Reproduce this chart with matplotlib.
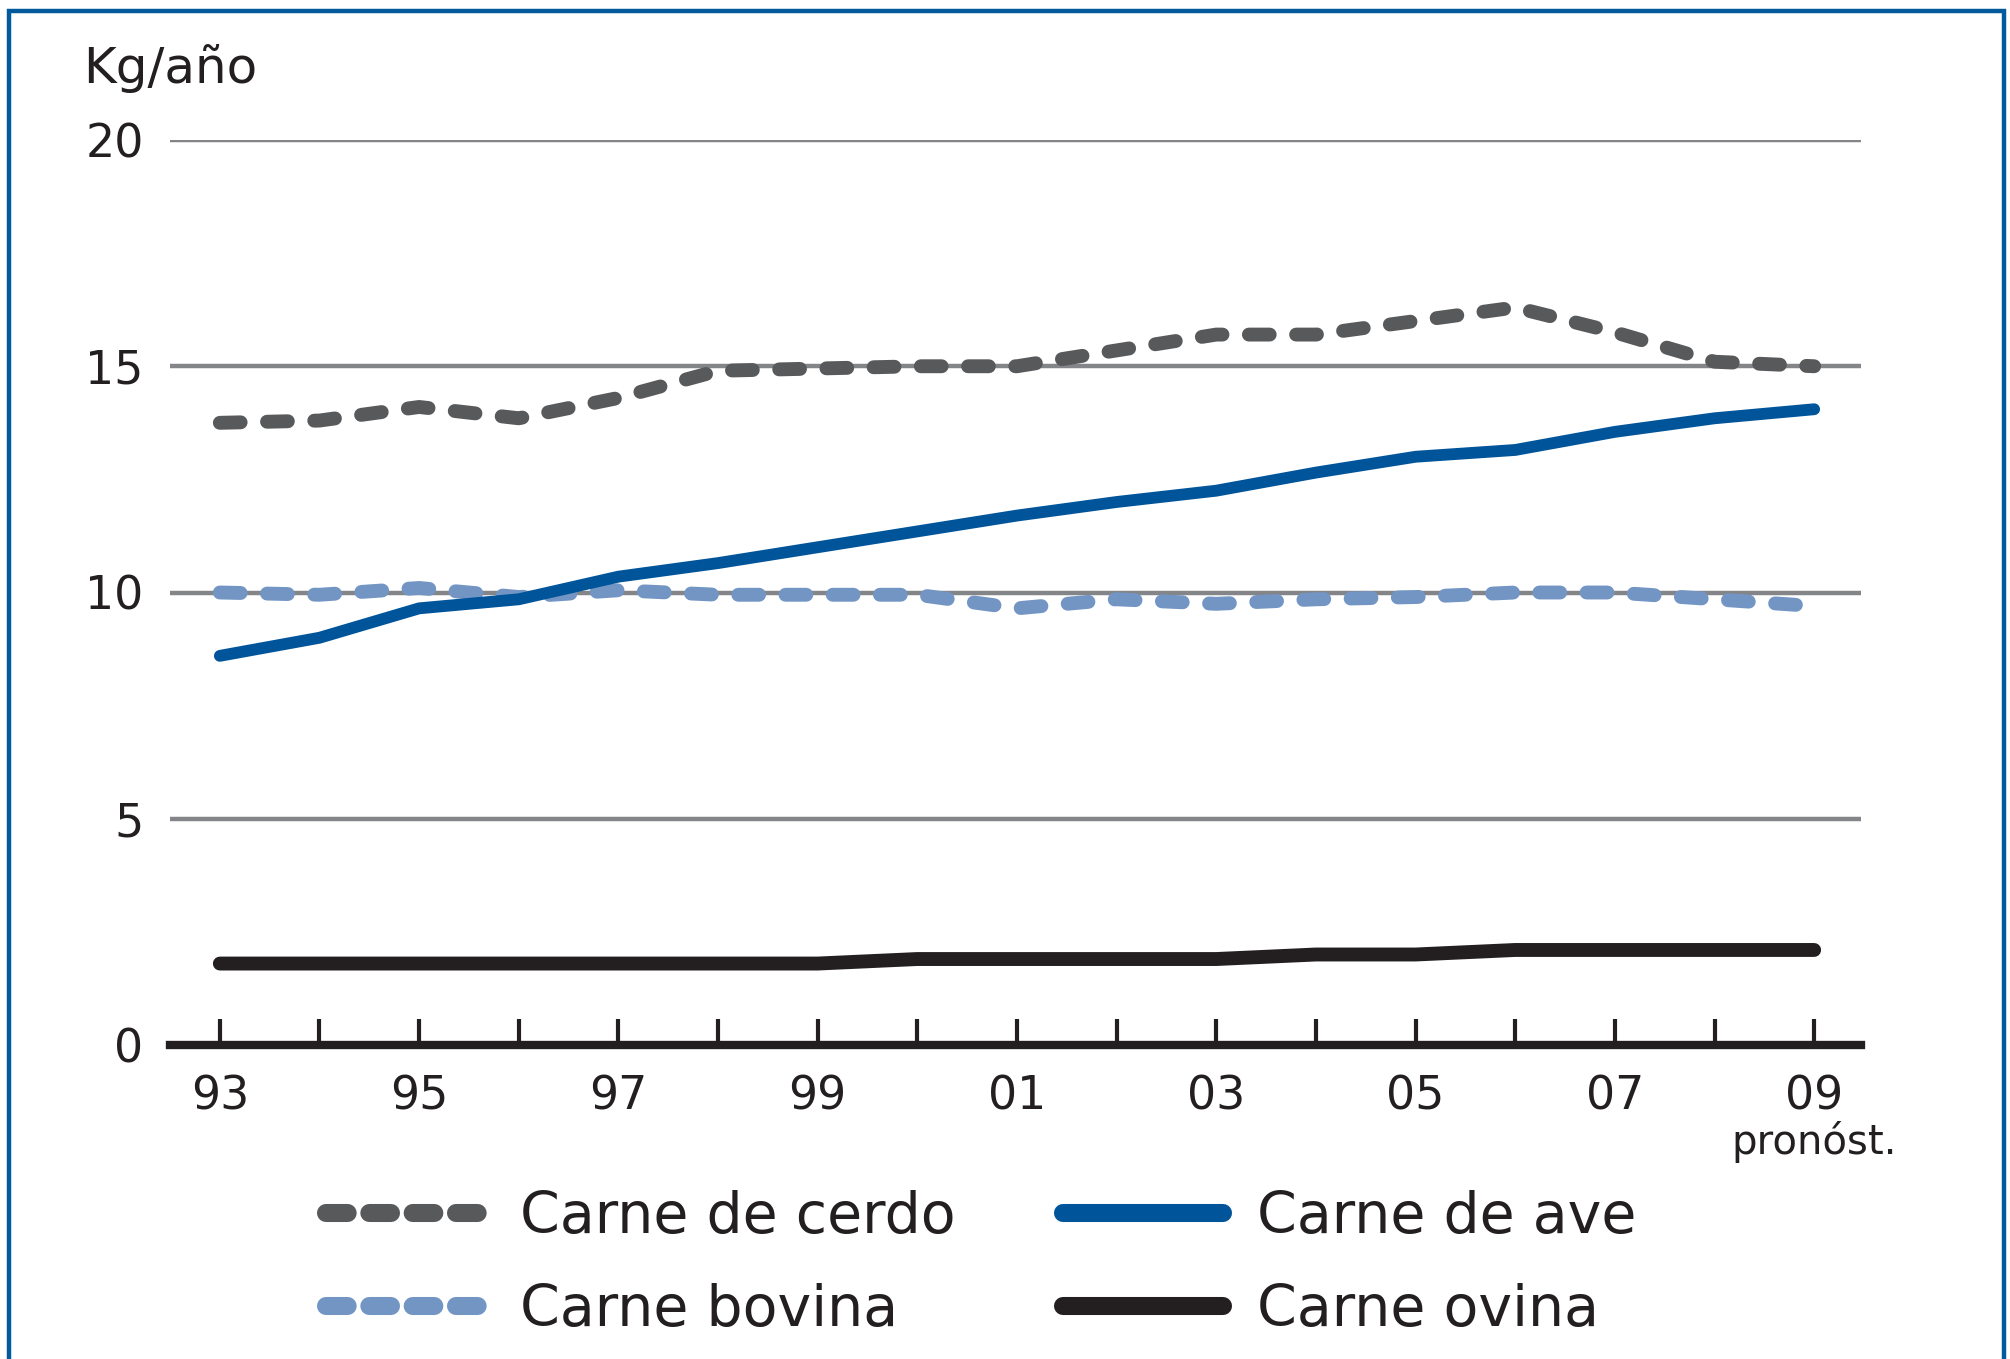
import matplotlib
matplotlib.use('Agg')
import matplotlib.pyplot as plt
from matplotlib.lines import Line2D
from matplotlib.patches import Rectangle

# ---- data ----
years = list(range(1993, 2010))
tick_labels = ['93', '', '95', '', '97', '', '99', '', '01', '', '03', '', '05', '', '07', '', '09']
y_ticks = [0, 5, 10, 15, 20]

cerdo = [13.75, 13.8, 14.1, 13.85, 14.3, 14.9, 14.95, 15.0, 15.0, 15.35,
         15.7, 15.7, 16.0, 16.3, 15.75, 15.1, 15.0]
ave = [8.6, 9.0, 9.65, 9.85, 10.35, 10.65, 11.0, 11.35, 11.7, 12.0,
       12.25, 12.65, 13.0, 13.15, 13.55, 13.85, 14.05]
bovina = [10.0, 9.95, 10.1, 9.9, 10.05, 9.95, 9.95, 9.95, 9.65, 9.85,
          9.75, 9.85, 9.9, 10.0, 10.0, 9.85, 9.7]
ovina = [1.8, 1.8, 1.8, 1.8, 1.8, 1.8, 1.8, 1.9, 1.9, 1.9,
         1.9, 2.0, 2.0, 2.1, 2.1, 2.1, 2.1]

labels = ['Carne de cerdo', 'Carne bovina', 'Carne de ave', 'Carne ovina']

# ---- style ----
C_CERDO = '#58595B'
C_AVE = '#00549A'
C_BOVINA = '#7395C4'
C_OVINA = '#231F20'
C_GRID = '#848589'
C_FRAME = '#005A9C'

W, H = 2010, 1359
fig = plt.figure(figsize=(W / 100, H / 100), dpi=100)
fig.patch.set_facecolor('white')

# blue frame
fig.patches.append(Rectangle((9 / W, -0.05), (2004 - 9) / W, 1.05 - 11 / H,
                             transform=fig.transFigure, fill=False,
                             edgecolor=C_FRAME, lw=3.2))

ax = fig.add_axes([170 / W, 1 - 1045 / H, (1861 - 170) / W, (1045 - 140) / H])
ax.set_xlim(1992.5, 2009.47)
ax.set_ylim(0, 20)

ax.set_axisbelow(True)
ax.yaxis.grid(True, color=C_GRID, lw=3.2)
ax.xaxis.grid(False)

for s in ['left', 'right', 'top']:
    ax.spines[s].set_visible(False)
ax.spines['bottom'].set_color(C_OVINA)
ax.spines['bottom'].set_linewidth(6)
ax.spines['bottom'].set_zorder(5)

ax.set_xticks(years, tick_labels)
ax.set_yticks(y_ticks, [str(v) for v in y_ticks])
ax.tick_params(axis='x', direction='in', length=19, width=3, color=C_OVINA,
               pad=21, labelsize=33, labelcolor='#231F20')
ax.tick_params(axis='y', length=0, pad=19, labelsize=33, labelcolor='#231F20')

# lines
ax.plot(years, cerdo, color=C_CERDO, lw=10, dashes=(1.5, 1.9),
        dash_capstyle='round', zorder=3)
ax.plot(years, bovina, color=C_BOVINA, lw=10, dashes=(1.5, 1.9),
        dash_capstyle='round', zorder=3)
ax.plot(years, ave, color=C_AVE, lw=8.5, solid_capstyle='round', zorder=4)
ax.plot(years, ovina, color=C_OVINA, lw=10, solid_capstyle='round', zorder=4)

ax.annotate('pronóst.', xy=(2009, 0), xycoords=('data', 'axes fraction'),
            xytext=(0, -55), textcoords='offset points', ha='center', va='top',
            fontsize=29, color='#231F20', annotation_clip=False)

fig.text(83 / W, 1 - 83 / H, 'Kg/año', fontsize=36, ha='left', va='baseline',
         color='#231F20')

# legend
handles = [
    Line2D([], [], color=C_CERDO, lw=13, dashes=(1.2, 1.2), dash_capstyle='round'),
    Line2D([], [], color=C_BOVINA, lw=13, dashes=(1.2, 1.2), dash_capstyle='round'),
    Line2D([], [], color=C_AVE, lw=13, solid_capstyle='round'),
    Line2D([], [], color=C_OVINA, lw=13, solid_capstyle='round'),
]
leg = fig.legend(handles, labels, ncol=2, loc='upper left',
                 bbox_to_anchor=(326 / W, 1 - 1190 / H), frameon=False,
                 fontsize=41, handlelength=2.8, handletextpad=0.6,
                 columnspacing=1.9, labelspacing=0.66, borderpad=0,
                 borderaxespad=0)
for t in leg.get_texts():
    t.set_color('#231F20')

fig.savefig('out.png', dpi=100)
